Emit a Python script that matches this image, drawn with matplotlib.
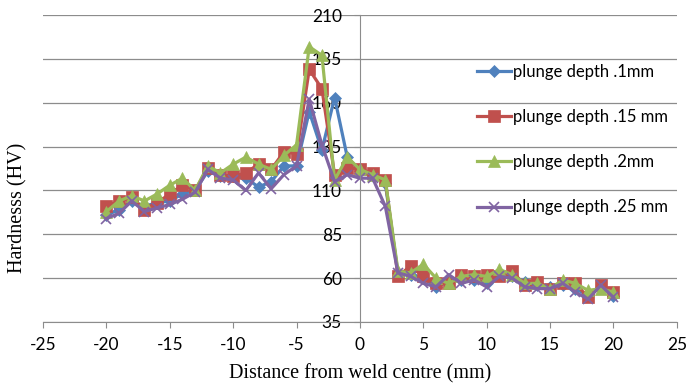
import matplotlib
matplotlib.use("Agg")
import matplotlib.pyplot as plt

# distance from weld centre (mm)
distance = list(range(-20, 21))

# hardness readings (HV) for each plunge depth
hv_01 = [96, 99, 104, 101, 103, 104, 108, 110, 121, 118,
         118, 117, 112, 115, 124, 124, 155, 133, 163, 129,
         121, 118, 114, 63, 62, 60, 55, 58, 59, 59,
         57, 62, 61, 58, 56, 55, 56, 54, 50, 55, 50]
hv_015 = [101, 104, 106, 99, 103, 108, 113, 110, 123, 119,
          118, 120, 125, 122, 132, 131, 179, 168, 119, 123,
          122, 120, 116, 61, 67, 61, 57, 57, 62, 61,
          62, 61, 64, 56, 58, 54, 57, 57, 49, 56, 52]
hv_02 = [98, 104, 107, 104, 108, 113, 117, 110, 124, 120,
         125, 129, 125, 122, 130, 136, 192, 187, 116, 129,
         122, 119, 116, 64, 63, 68, 60, 57, 61, 62,
         61, 65, 62, 57, 57, 54, 59, 57, 53, 54, 52]
hv_025 = [94, 97, 104, 98, 100, 102, 105, 109, 122, 117,
          116, 110, 120, 111, 119, 124, 162, 136, 115, 119,
          117, 117, 101, 63, 61, 57, 55, 62, 57, 59,
          55, 61, 60, 55, 54, 54, 57, 52, 48, 56, 49]

labels = ["plunge depth .1mm", "plunge depth .15 mm",
          "plunge depth .2mm", "plunge depth .25 mm"]
x_ticks = list(range(-25, 26, 5))
y_ticks = list(range(35, 211, 25))

plt.rcParams['font.family'] = ['Lato', 'DejaVu Sans']
plt.rcParams['axes.unicode_minus'] = False

fig = plt.figure(figsize=(6.86, 3.87), dpi=100)
ax = fig.add_axes([0.0627, 0.168, 0.924, 0.793])

styles = [("#4F81BD", "D", 6), ("#C0504D", "s", 8),
          ("#9BBB59", "^", 8.5), ("#8064A2", "x", 7.5)]
for vals, lab, (col, mk, ms) in zip([hv_01, hv_015, hv_02, hv_025], labels, styles):
    ax.plot(distance, vals, color=col, marker=mk, markersize=ms, lw=2.3,
            markeredgewidth=1.2 if mk == "x" else 0.5, markeredgecolor=col, label=lab)

ax.set_xlim(-25, 25)
ax.set_ylim(35, 210)
ax.set_xticks(x_ticks)
ax.set_yticks(y_ticks)
ax.grid(axis="y", color="#8c8c8c", lw=0.9)
ax.set_axisbelow(True)

# y axis crosses at x = 0
ax.spines["left"].set_position(("data", 0))
ax.spines["right"].set_visible(False)
ax.spines["top"].set_visible(False)
for s in ("left", "bottom"):
    ax.spines[s].set_color("#8c8c8c")
ax.tick_params(axis="both", colors="#8c8c8c", labelcolor="black", labelsize=12.5,
               direction="out", length=4)
ax.tick_params(axis="x", pad=7)
ax.tick_params(axis="y", pad=9)

ax.set_xlabel("Distance from weld centre (mm)", family="Liberation Serif", fontsize=14.5,
              labelpad=8)
ax.set_ylabel("Hardnesss (HV)", family="Liberation Serif", fontsize=14.5)
ax.yaxis.set_label_coords(-0.025, 0.371)

fig.legend(loc="upper left", bbox_to_anchor=(0.695, 0.835), frameon=False,
           fontsize=12, handlelength=2.05, handletextpad=0.12, labelspacing=1.75,
           borderpad=0, borderaxespad=0)

fig.savefig("out.png", dpi=100)
